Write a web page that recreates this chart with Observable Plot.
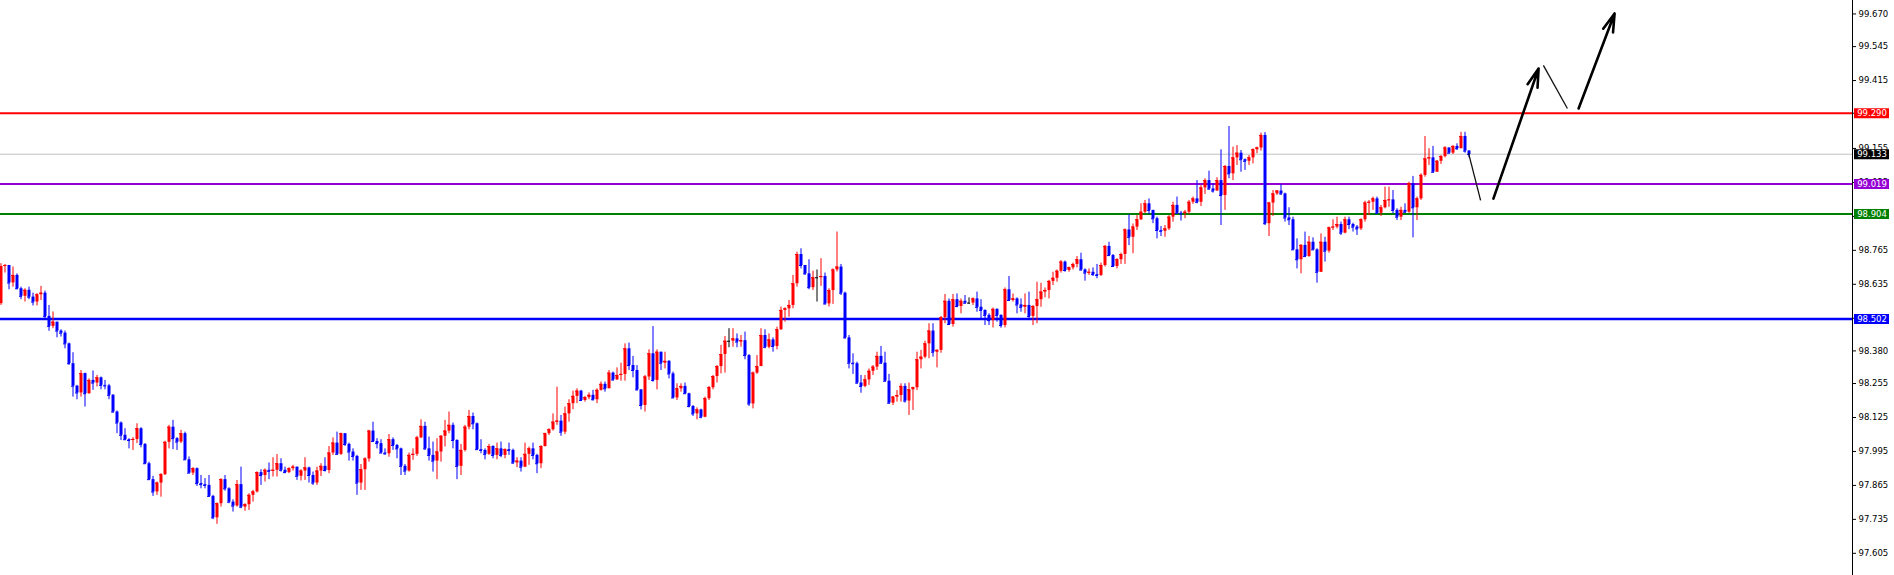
<!DOCTYPE html>
<html>
<head>
<meta charset="utf-8">
<script src="https://cdn.jsdelivr.net/npm/d3@7"></script>
<script src="https://cdn.jsdelivr.net/npm/@observablehq/plot@0.6"></script>
<style>
  html, body { margin: 0; padding: 0; background: #ffffff; }
  #chart { width: 1894px; height: 575px; overflow: hidden; }
</style>
</head>
<body>
<div id="chart"></div>
<script>
// ---- Data ----
const firstOpen = 98.561;

const closes = [
  98.703, 98.707, 98.640, 98.669, 98.618, 98.589, 98.612, 98.586, 98.567, 98.595,
  98.601, 98.512, 98.474, 98.490, 98.456, 98.448, 98.407, 98.331, 98.245, 98.219,
  98.293, 98.216, 98.267, 98.257, 98.277, 98.248, 98.246, 98.210, 98.146, 98.104,
  98.057, 98.040, 98.037, 98.041, 98.082, 98.022, 97.948, 97.887, 97.840, 97.874,
  97.906, 98.030, 98.088, 98.044, 98.031, 98.063, 97.963, 97.912, 97.929, 97.872,
  97.868, 97.865, 97.823, 97.741, 97.795, 97.887, 97.852, 97.801, 97.786, 97.868,
  97.782, 97.791, 97.827, 97.840, 97.914, 97.903, 97.923, 97.919, 97.923, 97.948,
  97.923, 97.914, 97.929, 97.935, 97.900, 97.920, 97.932, 97.903, 97.874, 97.920,
  97.938, 97.922, 97.989, 98.027, 97.984, 98.063, 98.022, 97.993, 97.976, 97.874,
  97.925, 97.966, 98.073, 98.033, 98.025, 97.989, 97.986, 98.040, 98.018, 98.005,
  97.938, 97.920, 97.980, 97.984, 98.047, 98.091, 98.005, 97.980, 97.958, 97.993,
  98.053, 98.073, 98.095, 98.037, 97.938, 97.999, 98.088, 98.129, 98.101, 98.002,
  97.999, 97.984, 98.014, 97.980, 98.005, 97.980, 98.002, 97.999, 97.951, 97.958,
  97.935, 97.984, 98.005, 97.980, 97.948, 98.014, 98.063, 98.078, 98.107, 98.111,
  98.069, 98.139, 98.178, 98.206, 98.226, 98.190, 98.201, 98.210, 98.193, 98.229,
  98.252, 98.235, 98.295, 98.269, 98.286, 98.290, 98.388, 98.324, 98.305, 98.231,
  98.171, 98.280, 98.369, 98.267, 98.375, 98.333, 98.340, 98.292, 98.200, 98.235,
  98.244, 98.216, 98.167, 98.139, 98.154, 98.126, 98.197, 98.239, 98.282, 98.320,
  98.366, 98.417, 98.417, 98.426, 98.414, 98.419, 98.362, 98.177, 98.295, 98.320,
  98.439, 98.394, 98.422, 98.397, 98.461, 98.535, 98.541, 98.554, 98.637, 98.749,
  98.707, 98.675, 98.622, 98.660, 98.660, 98.665, 98.560, 98.611, 98.690, 98.701,
  98.601, 98.430, 98.333, 98.331, 98.257, 98.244, 98.269, 98.302, 98.318, 98.359,
  98.333, 98.264, 98.180, 98.203, 98.209, 98.244, 98.188, 98.231, 98.239, 98.346,
  98.356, 98.407, 98.456, 98.375, 98.382, 98.507, 98.570, 98.481, 98.576, 98.550,
  98.570, 98.563, 98.563, 98.579, 98.547, 98.535, 98.516, 98.496, 98.539, 98.516,
  98.477, 98.614, 98.573, 98.579, 98.556, 98.547, 98.554, 98.512, 98.550, 98.576,
  98.605, 98.611, 98.646, 98.658, 98.685, 98.720, 98.688, 98.698, 98.711, 98.729,
  98.690, 98.678, 98.681, 98.672, 98.669, 98.707, 98.780, 98.745, 98.703, 98.729,
  98.749, 98.843, 98.815, 98.854, 98.882, 98.911, 98.943, 98.918, 98.886, 98.841,
  98.838, 98.847, 98.892, 98.937, 98.907, 98.905, 98.911, 98.949, 98.962, 98.949,
  99.004, 99.032, 99.000, 98.992, 99.032, 98.975, 99.086, 99.058, 99.119, 99.137,
  99.112, 99.106, 99.119, 99.150, 99.157, 99.205, 98.867, 98.946, 98.981, 98.992,
  98.981, 98.889, 98.882, 98.767, 98.729, 98.784, 98.741, 98.796, 98.767, 98.681,
  98.796, 98.762, 98.851, 98.854, 98.864, 98.831, 98.882, 98.864, 98.854, 98.847,
  98.882, 98.946, 98.949, 98.962, 98.907, 98.928, 98.956, 98.958, 98.918, 98.892,
  98.918, 98.911, 99.020, 98.928, 98.962, 99.052, 99.115, 99.119, 99.064, 99.106,
  99.124, 99.157, 99.137, 99.163, 99.154, 99.201, 99.145, 99.132
];

const highs = [
  98.714, 98.711, 98.703, 98.701, 98.675, 98.624, 98.618, 98.624, 98.601, 98.599,
  98.627, 98.609, 98.554, 98.529, 98.490, 98.461, 98.456, 98.410, 98.373, 98.248,
  98.305, 98.295, 98.273, 98.303, 98.286, 98.280, 98.267, 98.252, 98.213, 98.150,
  98.108, 98.082, 98.044, 98.048, 98.101, 98.086, 98.025, 97.954, 97.900, 97.878,
  97.910, 98.034, 98.095, 98.114, 98.048, 98.076, 98.069, 97.974, 97.933, 97.932,
  97.903, 97.891, 97.903, 97.827, 97.798, 97.891, 97.903, 97.856, 97.810, 97.884,
  97.935, 97.795, 97.833, 97.846, 97.917, 97.925, 97.928, 97.951, 97.971, 97.983,
  97.967, 97.935, 97.933, 97.942, 97.932, 97.925, 97.971, 97.935, 97.916, 97.935,
  97.948, 97.971, 98.014, 98.047, 98.069, 98.065, 98.063, 98.027, 98.005, 97.980,
  97.945, 97.971, 98.076, 98.107, 98.044, 98.040, 98.005, 98.060, 98.047, 98.022,
  98.008, 97.945, 97.989, 98.005, 98.053, 98.116, 98.107, 98.050, 98.031, 98.044,
  98.056, 98.114, 98.146, 98.104, 98.040, 98.022, 98.095, 98.152, 98.142, 98.104,
  98.040, 98.005, 98.022, 98.017, 98.027, 98.031, 98.005, 98.027, 98.004, 97.971,
  97.971, 98.027, 98.012, 98.027, 97.984, 98.017, 98.065, 98.082, 98.139, 98.241,
  98.133, 98.165, 98.193, 98.226, 98.235, 98.229, 98.206, 98.219, 98.229, 98.235,
  98.261, 98.261, 98.305, 98.299, 98.315, 98.333, 98.407, 98.410, 98.359, 98.324,
  98.231, 98.286, 98.384, 98.473, 98.384, 98.375, 98.375, 98.343, 98.299, 98.254,
  98.254, 98.257, 98.218, 98.171, 98.162, 98.157, 98.203, 98.244, 98.286, 98.324,
  98.401, 98.435, 98.465, 98.465, 98.445, 98.439, 98.452, 98.366, 98.299, 98.362,
  98.465, 98.461, 98.445, 98.430, 98.471, 98.548, 98.545, 98.573, 98.669, 98.758,
  98.771, 98.707, 98.729, 98.685, 98.690, 98.733, 98.678, 98.618, 98.694, 98.835,
  98.711, 98.605, 98.439, 98.369, 98.337, 98.286, 98.286, 98.311, 98.324, 98.375,
  98.397, 98.375, 98.290, 98.206, 98.228, 98.254, 98.254, 98.257, 98.241, 98.375,
  98.382, 98.417, 98.484, 98.484, 98.384, 98.512, 98.596, 98.579, 98.596, 98.598,
  98.579, 98.592, 98.583, 98.583, 98.605, 98.576, 98.537, 98.522, 98.544, 98.541,
  98.518, 98.621, 98.665, 98.598, 98.583, 98.579, 98.598, 98.605, 98.554, 98.643,
  98.639, 98.621, 98.650, 98.681, 98.690, 98.726, 98.724, 98.701, 98.716, 98.741,
  98.754, 98.694, 98.694, 98.698, 98.711, 98.716, 98.784, 98.796, 98.749, 98.733,
  98.754, 98.847, 98.902, 98.866, 98.898, 98.943, 98.956, 98.962, 98.911, 98.892,
  98.856, 98.860, 98.898, 98.949, 98.969, 98.914, 98.918, 98.956, 98.969, 99.032,
  99.013, 99.039, 99.068, 99.020, 99.043, 99.150, 99.090, 99.239, 99.160, 99.166,
  99.147, 99.115, 99.128, 99.154, 99.160, 99.214, 99.216, 98.949, 98.994, 98.994,
  99.017, 98.984, 98.928, 98.892, 98.809, 98.787, 98.835, 98.818, 98.813, 98.771,
  98.828, 98.815, 98.854, 98.882, 98.892, 98.873, 98.892, 98.892, 98.869, 98.860,
  98.886, 98.953, 98.956, 98.969, 98.969, 98.937, 99.007, 99.007, 98.994, 98.924,
  98.930, 98.943, 99.026, 99.048, 98.969, 99.058, 99.201, 99.154, 99.163, 99.109,
  99.128, 99.162, 99.157, 99.165, 99.173, 99.217, 99.217, 99.147
];

const lows = [
  98.554, 98.678, 98.614, 98.624, 98.614, 98.576, 98.567, 98.576, 98.552, 98.552,
  98.573, 98.497, 98.455, 98.465, 98.430, 98.433, 98.388, 98.325, 98.203, 98.193,
  98.203, 98.165, 98.214, 98.229, 98.242, 98.231, 98.231, 98.193, 98.142, 98.063,
  98.037, 98.037, 98.005, 97.999, 98.025, 98.009, 97.946, 97.884, 97.823, 97.827,
  97.820, 97.903, 98.005, 98.002, 97.999, 98.025, 97.961, 97.910, 97.903, 97.861,
  97.852, 97.852, 97.820, 97.734, 97.716, 97.782, 97.843, 97.795, 97.763, 97.782,
  97.776, 97.766, 97.769, 97.801, 97.836, 97.865, 97.878, 97.887, 97.897, 97.897,
  97.916, 97.910, 97.910, 97.920, 97.884, 97.882, 97.884, 97.874, 97.865, 97.865,
  97.899, 97.916, 97.910, 97.980, 97.980, 97.980, 98.014, 97.958, 97.958, 97.827,
  97.846, 97.846, 97.954, 98.031, 98.005, 97.986, 97.980, 97.973, 97.999, 97.967,
  97.903, 97.903, 97.916, 97.961, 97.976, 98.044, 97.999, 97.958, 97.916, 97.887,
  97.954, 98.012, 98.063, 98.005, 97.887, 97.903, 97.993, 98.078, 98.078, 97.999,
  97.986, 97.963, 97.980, 97.967, 97.963, 97.971, 97.967, 97.980, 97.945, 97.933,
  97.916, 97.933, 97.942, 97.963, 97.910, 97.929, 98.012, 98.056, 98.073, 98.095,
  98.053, 98.060, 98.107, 98.155, 98.178, 98.188, 98.184, 98.193, 98.188, 98.178,
  98.226, 98.222, 98.235, 98.264, 98.267, 98.264, 98.264, 98.305, 98.277, 98.226,
  98.154, 98.146, 98.267, 98.260, 98.231, 98.305, 98.311, 98.273, 98.197, 98.190,
  98.222, 98.213, 98.162, 98.129, 98.116, 98.120, 98.124, 98.190, 98.231, 98.257,
  98.292, 98.295, 98.392, 98.394, 98.392, 98.394, 98.346, 98.167, 98.158, 98.290,
  98.343, 98.388, 98.388, 98.375, 98.384, 98.458, 98.490, 98.509, 98.541, 98.624,
  98.694, 98.669, 98.614, 98.611, 98.567, 98.627, 98.555, 98.548, 98.558, 98.682,
  98.592, 98.425, 98.311, 98.290, 98.251, 98.218, 98.239, 98.248, 98.286, 98.305,
  98.328, 98.260, 98.175, 98.171, 98.184, 98.184, 98.180, 98.133, 98.152, 98.228,
  98.311, 98.350, 98.350, 98.356, 98.315, 98.371, 98.484, 98.477, 98.471, 98.545,
  98.522, 98.558, 98.558, 98.554, 98.528, 98.499, 98.477, 98.477, 98.468, 98.490,
  98.467, 98.468, 98.570, 98.567, 98.522, 98.528, 98.522, 98.496, 98.477, 98.484,
  98.547, 98.583, 98.579, 98.630, 98.643, 98.678, 98.681, 98.681, 98.690, 98.698,
  98.685, 98.647, 98.669, 98.665, 98.656, 98.665, 98.701, 98.741, 98.701, 98.694,
  98.711, 98.711, 98.783, 98.752, 98.841, 98.879, 98.905, 98.902, 98.867, 98.809,
  98.818, 98.815, 98.841, 98.873, 98.905, 98.877, 98.886, 98.902, 98.941, 98.943,
  98.933, 98.979, 98.994, 98.984, 98.992, 98.860, 98.918, 99.039, 99.032, 99.090,
  99.064, 99.071, 99.090, 99.096, 99.135, 99.145, 98.860, 98.818, 98.895, 98.975,
  98.975, 98.873, 98.860, 98.764, 98.694, 98.675, 98.739, 98.739, 98.764, 98.639,
  98.681, 98.720, 98.754, 98.841, 98.847, 98.822, 98.828, 98.844, 98.835, 98.822,
  98.841, 98.873, 98.898, 98.918, 98.905, 98.895, 98.924, 98.930, 98.905, 98.879,
  98.879, 98.907, 98.907, 98.813, 98.879, 98.956, 99.045, 99.090, 99.061, 99.064,
  99.094, 99.119, 99.135, 99.132, 99.147, 99.154, 99.137, 99.119
];

// Right price axis tick values (as printed)
const yTicks = [99.670, 99.545, 99.415, 99.290, 99.155, 99.025, 98.895, 98.765,
  98.635, 98.505, 98.380, 98.255, 98.125, 97.995, 97.865, 97.735, 97.605];

// Horizontal level lines and their price tags
const levelPrices = [99.290, 99.019, 98.904, 98.502];
const levelColors = ["#ff0000", "#9400d3", "#008000", "#0000ff"];
const levelWidths = [2, 2, 2, 2.5];
const currentPrice = 99.133;

// Hand-drawn projection strokes (bar index, price)
const thinStrokes = [
  {x1: 366.9, y1: 99.136, x2: 369.9, y2: 98.956},
  {x1: 385.6, y1: 99.473, x2: 391.6, y2: 99.308}
];
const thickArrows = [
  {x1: 373.1, y1: 98.963, x2: 384.4, y2: 99.461},
  {x1: 394.4, y1: 99.308, x2: 403.4, y2: 99.672}
];

// ---- Build ----
if (closes.length !== highs.length || closes.length !== lows.length) {
  throw new Error(`length mismatch ${closes.length} ${highs.length} ${lows.length}`);
}
const candles = closes.map((c, i) => {
  const o = i === 0 ? firstOpen : closes[i - 1];
  return {i, o, c, h: Math.max(highs[i], o, c), l: Math.min(lows[i], o, c)};
});
const BULL = "#ff0000", BEAR = "#0000ff", DOJI = "#000000";
const col = d => d.c > d.o ? BULL : d.c < d.o ? BEAR : DOJI;

const levels = levelPrices.map((p, k) => ({price: p, color: levelColors[k], w: levelWidths[k]}));
const tags = [...levels, {price: currentPrice, color: "#000000"}];

const W = 1894, H = 575, MR = 42;
const pxPerBar = 4;
const nSlots = (W - MR) / pxPerBar;

const chart = Plot.plot({
  width: W,
  height: H,
  marginLeft: 0,
  marginRight: MR,
  marginTop: 0,
  marginBottom: 0,
  style: {fontFamily: "DejaVu Sans", fontSize: "8.5px", background: "#ffffff", color: "#000000"},
  x: {domain: [-0.125, nSlots - 0.125], axis: null},
  y: {domain: [97.5201, 99.7215], axis: null},
  marks: [
    // level lines
    Plot.ruleY([currentPrice], {stroke: "#c0c0c0", strokeWidth: 1}),
    ...levels.map(L => Plot.ruleY([L], {y: "price", stroke: L.color, strokeWidth: L.w})),
    // candles: wicks, bodies, min-height caps
    Plot.ruleX(candles, {x: "i", y1: "l", y2: "h", stroke: col, strokeWidth: 1}),
    Plot.ruleX(candles, {x: "i", y1: "o", y2: "c", stroke: col, strokeWidth: 3}),
    Plot.ruleY(candles, {y: "c", x1: d => d.i - 0.375, x2: d => d.i + 0.375, stroke: col, strokeWidth: 1}),
    // projection strokes and arrows
    Plot.link(thinStrokes, {x1: "x1", y1: "y1", x2: "x2", y2: "y2", stroke: "#111", strokeWidth: 1.3}),
    Plot.arrow(thickArrows, {x1: "x1", y1: "y1", x2: "x2", y2: "y2", stroke: "#000", strokeWidth: 2.6, headLength: 11, headAngle: 32}),
    // right axis
    Plot.frame({anchor: "right", stroke: "#000"}),
    Plot.axisY({anchor: "right", ticks: yTicks, tickFormat: d => d.toFixed(3), tickSize: 3, tickPadding: 3, stroke: "#000", fill: "#000"}),
    // price tags
    Plot.ruleY(tags, {y: "price", stroke: "color", strokeWidth: 10, insetLeft: W - MR + 2, insetRight: -37}),
    Plot.text(tags, {y: "price", text: d => d.price.toFixed(3), frameAnchor: "right", dx: 19.5, textAnchor: "middle", fill: "#ffffff"})
  ]
});
document.getElementById("chart").appendChild(chart);
</script>
</body>
</html>
